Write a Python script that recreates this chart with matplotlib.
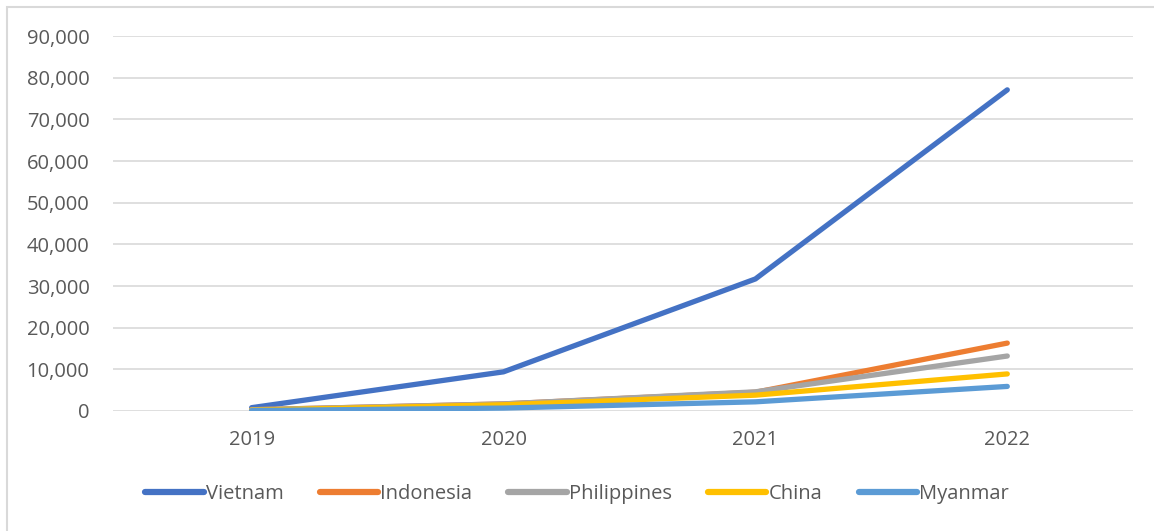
import matplotlib.pyplot as plt
from matplotlib.patches import Rectangle
from matplotlib.ticker import FuncFormatter

years = ["2019", "2020", "2021", "2022"]
vietnam = [800, 9400, 31700, 77100]
indonesia = [300, 1700, 4500, 16300]
philippines = [300, 1700, 4600, 13200]
china = [200, 1500, 3800, 8900]
myanmar = [100, 700, 2200, 5900]

series = [
    ("Vietnam", vietnam, "#4472C4"),
    ("Indonesia", indonesia, "#ED7D31"),
    ("Philippines", philippines, "#A5A5A5"),
    ("China", china, "#FFC000"),
    ("Myanmar", myanmar, "#5B9BD5"),
]

plt.rcParams["font.family"] = ["Open Sans", "DejaVu Sans"]

fig = plt.figure(figsize=(11.54, 5.31), dpi=100)
fig.patches.append(Rectangle((7 / 1154, -0.1), 1.2, (524 / 531) + 0.1,
                             transform=fig.transFigure, fill=False,
                             edgecolor="#D9D9D9", linewidth=1.5))

ax = fig.add_axes([0.098, 0.226, 0.884, 0.706])
x = range(len(years))
for name, vals, color in series:
    ax.plot(x, vals, color=color, linewidth=3.8, solid_capstyle="round",
            solid_joinstyle="round", label=name)

ax.set_xlim(-0.55, 3.5)
ax.set_ylim(0, 90000)
ax.set_yticks(range(0, 90001, 10000))
ax.yaxis.set_major_formatter(FuncFormatter(lambda v, p: f"{int(v):,}"))
ax.set_xticks(list(x))
ax.set_xticklabels(years)
ax.grid(axis="y", color="#D9D9D9", linewidth=1.2)
ax.set_axisbelow(True)
for s in ax.spines.values():
    s.set_visible(False)
ax.tick_params(length=0, labelsize=14.5, colors="#595959", pad=14)
ax.tick_params(axis="y", pad=17)

leg = fig.legend(loc="center", bbox_to_anchor=(0.5, 37 / 531), ncol=5, frameon=False,
                 fontsize=14.5, labelcolor="#595959", handlelength=2.9,
                 handletextpad=0.1, columnspacing=1.8)
for h in leg.get_lines():
    h.set_linewidth(4.5)

fig.savefig("out.png", dpi=100)
